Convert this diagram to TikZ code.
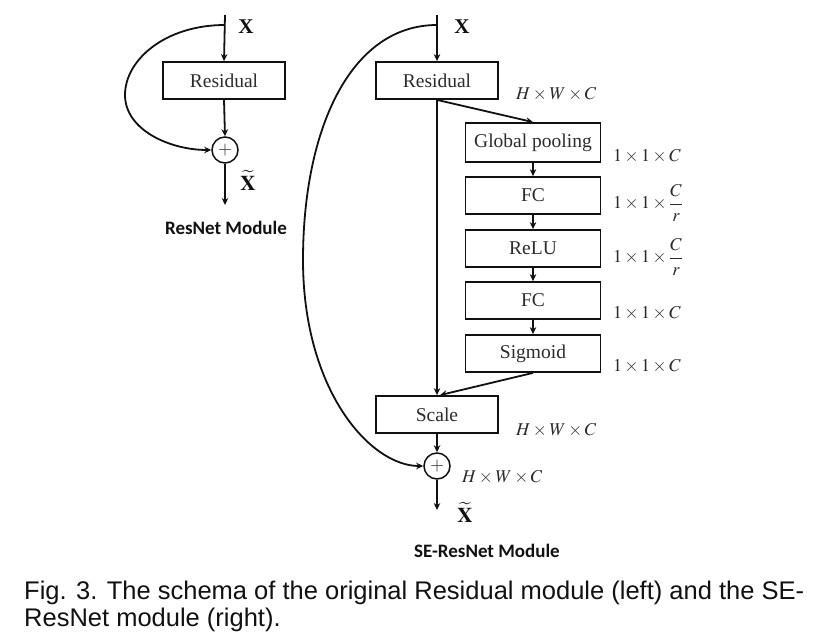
\documentclass[tikz,border=0pt]{standalone}
\usepackage{amsmath}
\usepackage{mathptmx}
\usepackage{fontspec}
\setmainfont{Liberation Serif}
\newfontfamily\capfont{Liberation Sans}
\newfontfamily\modfont{Carlito}
\usepackage{tikz}
\usetikzlibrary{arrows.meta, positioning, calc}
\definecolor{seline}{HTML}{111111}
\definecolor{setext}{HTML}{2A2A30}

\tikzset{
  blk/.style={draw=seline, line width=1.8pt, minimum width=122pt, minimum height=37pt,
    inner sep=0pt, text=setext, font=\fontsize{19.5}{22}\selectfont},
  seblk/.style={blk, minimum width=135pt},
  sumnode/.style={draw=seline, circle, line width=1.5pt, minimum size=26pt, inner sep=0pt,
    text=setext, font=\fontsize{18}{20}\selectfont},
  flow/.style={draw=seline, line width=1.8pt, -{Stealth[length=7pt,width=6.5pt]}},
  dimlbl/.style={anchor=west, text=setext, inner sep=0pt, font=\fontsize{18}{20}\selectfont},
  xlbl/.style={text=seline, inner sep=0pt, font=\fontsize{21}{23}\selectfont\bfseries},
  modlbl/.style={text=seline, font=\fontsize{19}{21}\selectfont\modfont\bfseries}
}

\begin{document}
\begin{tikzpicture}[x=1pt, y=-1pt]
  \useasboundingbox (0,0) rectangle (818,642);

  % ResNet module (left)
  \coordinate (lin) at (225,15);
  \coordinate (lsplit) at (225,25);
  \coordinate (lout) at (225,205);
  \node[blk] (lres) at (224,80.5) {Residual};
  \node[sumnode] (lsum) at (225,150) {$+$};
  \draw[flow] (lin) -- (lres.north);
  \draw[flow] (lres.south) -- (lsum.north);
  \draw[flow] (lsum.south) -- (lout);
  \draw[flow] (lsplit) .. controls (165,25) and (125,60) .. (125,95)
    .. controls (125,130) and (170,150) .. (lsum.west);
  \node[xlbl] (lx) at (246,27) {X};
  \node[xlbl] (lxt) at (248,180) {$\widetilde{\mathbf{X}}$};
  \node[modlbl] (lmod) at (226,228) {ResNet Module};

  % SE-ResNet module (right)
  \coordinate (rin) at (437,15);
  \coordinate (rsplit) at (437,25);
  \coordinate (rout) at (437,510);
  \node[blk] (rres) at (437,80.5) {Residual};
  \node[seblk, minimum height=39pt] (gp) at (533,142.5) {Global pooling};
  \foreach \n/\t/\y in {fc1/FC/195.5, relu/ReLU/248.5, fc2/FC/300.5, sig/Sigmoid/353.5}
    \node[seblk] (\n) at (533,\y) {\t};
  \node[blk] (scale) at (437,414.5) {Scale};
  \node[sumnode] (rsum) at (437,466) {$+$};

  \draw[flow] (rin) -- (rres.north);
  \draw[flow] (rres.south) -- (gp.north);
  \foreach \a/\b in {gp/fc1, fc1/relu, relu/fc2, fc2/sig}
    \draw[flow] (\a.south) -- (\b.north);
  \draw[flow] (rres.south) -- (scale.north);
  \draw[flow] (sig.south) -- ($(scale.north)+(3,0)$);
  \draw[flow] (scale.south) -- (rsum.north);
  \draw[flow] (rsum.south) -- (rout);
  \draw[flow] (rsplit) .. controls (350,25) and (303,130) .. (303,260)
    .. controls (303,390) and (370,466) .. (rsum.west);

  \node[xlbl] (rx) at (462,27) {X};
  \node[xlbl] (rxt) at (465,512) {$\widetilde{\mathbf{X}}$};
  \node[dimlbl] (dres) at (516,94) {$H\times W\times C$};
  \node[dimlbl] (dgp) at (613,156) {$1\times1\times C$};
  \node[dimlbl] (dfc1) at (613,203) {$1\times1\times\dfrac{C}{r}$};
  \node[dimlbl] (drelu) at (613,257) {$1\times1\times\dfrac{C}{r}$};
  \node[dimlbl] (dfc2) at (613,313) {$1\times1\times C$};
  \node[dimlbl] (dsig) at (613,366) {$1\times1\times C$};
  \node[dimlbl] (dscale) at (516,430) {$H\times W\times C$};
  \node[dimlbl] (dsum) at (462,477) {$H\times W\times C$};
  \node[modlbl] (rmod) at (487,551) {SE-ResNet Module};

  % caption
  \node[anchor=west, align=left, inner sep=0pt, text=seline,
    font=\fontsize{25.5}{27}\selectfont\capfont] (cap) at (24,606)
    {Fig. 3. The schema of the original Residual module (left) and the SE-\\ResNet module (right).};
\end{tikzpicture}
\end{document}
